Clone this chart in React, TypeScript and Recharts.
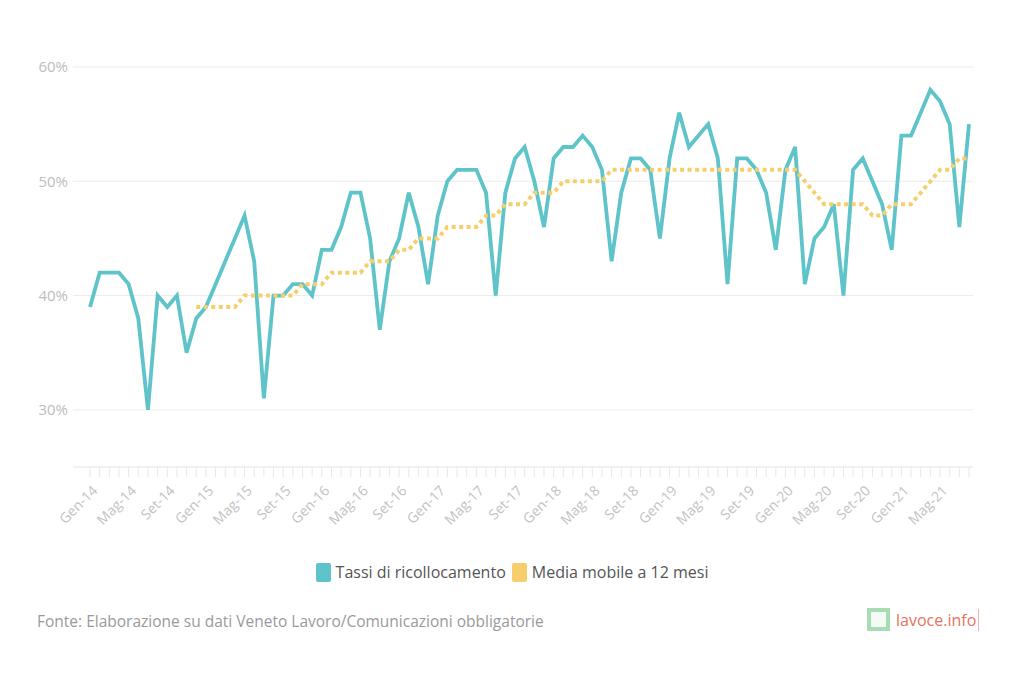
import React from "react";
import {
  LineChart,
  Line,
  XAxis,
  YAxis,
  CartesianGrid,
  Legend,
} from "recharts";

const MESI = ["Gen", "Feb", "Mar", "Apr", "Mag", "Giu", "Lug", "Ago", "Set", "Ott", "Nov", "Dic"];
const ANNI = ["14", "15", "16", "17", "18", "19", "20", "21"];

// Gen-14 .. Ago-21
const tassi = [
  39, 42, 42, 42, 41, 38, 30, 40, 39, 40, 35, 38,
  39, 41, 43, 45, 47, 43, 31, 40, 40, 41, 41, 40,
  44, 44, 46, 49, 49, 45, 37, 43, 45, 49, 46, 41,
  47, 50, 51, 51, 51, 49, 40, 49, 52, 53, 50, 46,
  52, 53, 53, 54, 53, 51, 43, 49, 52, 52, 51, 45,
  52, 56, 53, 54, 55, 52, 41, 52, 52, 51, 49, 44,
  51, 53, 41, 45, 46, 48, 40, 51, 52, 50, 48, 44,
  54, 54, 56, 58, 57, 55, 46, 55,
];

const mediaMobile = [
  null, null, null, null, null, null, null, null, null, null, null, 39,
  39, 39, 39, 39, 40, 40, 40, 40, 40, 40, 41, 41,
  41, 42, 42, 42, 42, 43, 43, 43, 44, 44, 45, 45,
  45, 46, 46, 46, 46, 47, 47, 48, 48, 48, 49, 49,
  49, 50, 50, 50, 50, 50, 51, 51, 51, 51, 51, 51,
  51, 51, 51, 51, 51, 51, 51, 51, 51, 51, 51, 51,
  51, 51, 50, 49, 48, 48, 48, 48, 48, 47, 47, 48,
  48, 48, 49, 50, 51, 51, 52, 52,
];

const yTicks = [30, 40, 50, 60];

const mesi: string[] = [];
ANNI.forEach((a) => MESI.forEach((m) => mesi.push(`${m}-${a}`)));

const data = tassi.map((v, i) => ({
  mese: mesi[i],
  tassi: v,
  media: mediaMobile[i],
}));

const TEAL = "#5ec4ca";
const GOLD = "#f6cf6c";
const FONT = "'Open Sans', 'Noto Sans', sans-serif";

const MeseTick = (props: any) => {
  const { x, y, payload, index } = props;
  if (index % 4 !== 0) return null;
  return (
    <g transform={`translate(${x + 5},${y + 9})`}>
      <text
        textAnchor="end"
        transform="rotate(-45)"
        fill="#c2c2c2"
        fontSize={14}
        fontFamily={FONT}
        dy="0.35em"
      >
        {payload.value}
      </text>
    </g>
  );
};

const Legenda = () => (
  <div
    style={{
      display: "flex",
      justifyContent: "center",
      alignItems: "center",
      fontFamily: FONT,
      fontSize: 16,
      color: "#555",
    }}
  >
    <span style={{ width: 15, height: 19, background: TEAL, borderRadius: 2, marginRight: 5 }} />
    <span style={{ marginRight: 6 }}>Tassi di ricollocamento</span>
    <span style={{ width: 15, height: 19, background: GOLD, borderRadius: 2, marginRight: 5 }} />
    <span>Media mobile a 12 mesi</span>
  </div>
);

export default function App() {
  return (
    <div
      style={{
        position: "absolute",
        left: 0,
        top: 0,
        width: 1024,
        height: 683,
        background: "#fff",
      }}
    >
      <LineChart
        width={1024}
        height={683}
        data={data}
        margin={{ top: 67, right: 51, left: 33, bottom: 0 }}
      >
        <CartesianGrid horizontal vertical={false} stroke="#ebebeb" />
        <XAxis
          dataKey="mese"
          interval={0}
          tick={<MeseTick />}
          tickSize={10}
          tickLine={{ stroke: "#e8e8e8" }}
          axisLine={{ stroke: "#eeeeee" }}
          padding={{ left: 17, right: 4 }}
          height={194}
        />
        <YAxis
          domain={[25, 60]}
          ticks={yTicks}
          width={40}
          axisLine={false}
          tickLine={false}
          tickSize={3}
          tickMargin={2}
          tickFormatter={(v) => `${v}%`}
          tick={{ fill: "#bdbdbd", fontSize: 15, fontFamily: FONT }}
        />
        <Legend
          content={<Legenda />}
          wrapperStyle={{ position: "absolute", top: 561, left: 0, width: 1024 }}
        />
        <Line
          type="linear"
          dataKey="tassi"
          name="Tassi di ricollocamento"
          stroke={TEAL}
          strokeWidth={3.8}
          dot={false}
          activeDot={false}
          isAnimationActive={false}
        />
        <Line
          type="linear"
          dataKey="media"
          name="Media mobile a 12 mesi"
          stroke={GOLD}
          strokeWidth={4}
          strokeDasharray="4 3.5"
          dot={false}
          activeDot={false}
          connectNulls={false}
          isAnimationActive={false}
        />
      </LineChart>
      <div
        style={{
          position: "absolute",
          left: 37,
          top: 610,
          fontFamily: FONT,
          fontSize: 15.5,
          color: "#9a9a9a",
        }}
      >
        Fonte: Elaborazione su dati Veneto Lavoro/Comunicazioni obbligatorie
      </div>
      <div
        style={{
          position: "absolute",
          left: 867,
          top: 608,
          display: "flex",
          alignItems: "center",
          fontFamily: FONT,
          fontSize: 16,
          color: "#e6735d",
        }}
      >
        <span
          style={{
            width: 15,
            height: 15,
            border: "4px solid #a7dcb4",
            background: "#f4fbf5",
            marginRight: 6,
          }}
        />
        <span style={{ borderRight: "1px solid #f2b5a8", paddingRight: 2 }}>lavoce.info</span>
      </div>
    </div>
  );
}
